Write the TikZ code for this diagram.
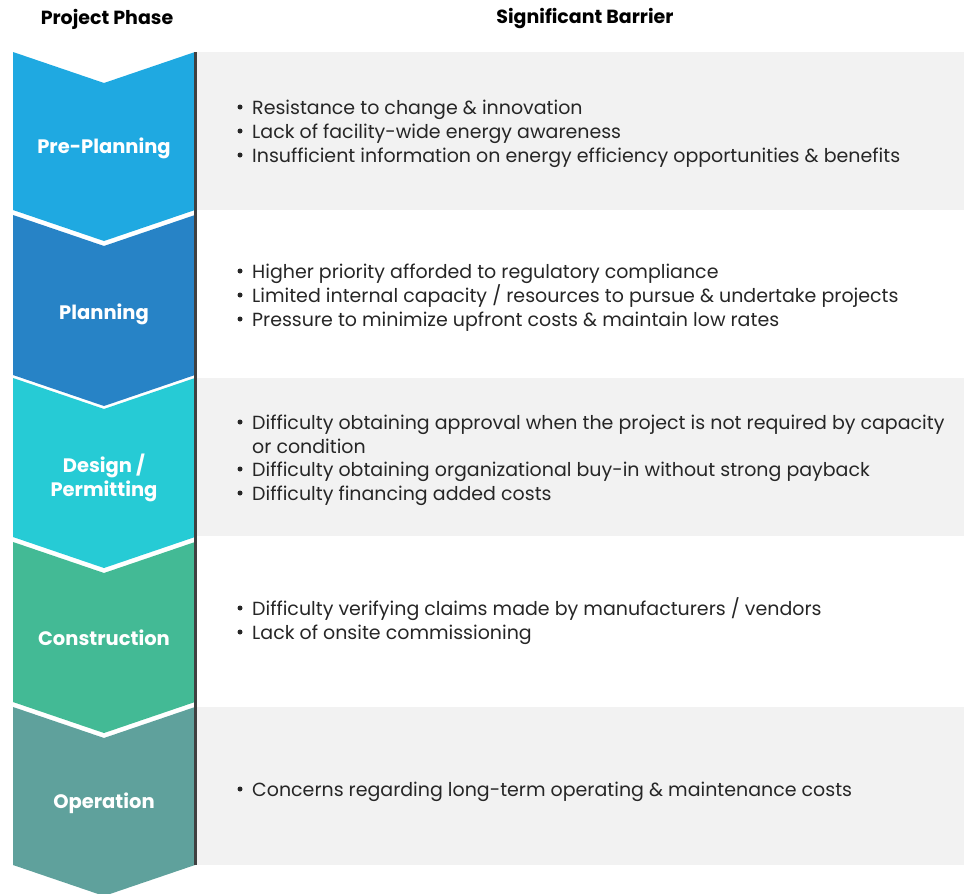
\documentclass[tikz,border=0pt]{standalone}
\usepackage{fontspec}
\setmainfont{Poppins}
\begin{document}
\begin{tikzpicture}[x=1pt,y=-1pt,
  phasetext/.style={text=white,font=\fontsize{19.5}{24.5}\selectfont\bfseries,align=center},
  headtext/.style={text=black,font=\fontsize{19}{23}\selectfont\bfseries},
  bullettext/.style={anchor=base west,inner sep=0pt,text=black!85,font=\fontsize{19}{23}\selectfont},
  dotmark/.style={circle,fill=black!85,inner sep=0pt,minimum size=5pt}]
\definecolor{cPre}{HTML}{1FA9E1}
\definecolor{cPlan}{HTML}{2783C6}
\definecolor{cDes}{HTML}{26CBD5}
\definecolor{cCon}{HTML}{43BA95}
\definecolor{cOpe}{HTML}{5FA19C}
\definecolor{rowgray}{HTML}{F2F2F2}
\useasboundingbox (0,0) rectangle (964,894);
% shaded barrier rows
\fill[rowgray] (197,52) rectangle (964,210);
\fill[rowgray] (197,378) rectangle (964,536);
\fill[rowgray] (197,707) rectangle (964,865);
% chevrons: top y, bottom y (side edges)
\foreach \ya/\yb/\col in {52/210/cPre, 215/375/cPlan, 378/537/cDes, 542/702/cCon, 707/865/cOpe}{
  \fill[\col] (13,\ya) -- (104,\ya+31) -- (195,\ya) -- (195,\yb) -- (104,\yb+31) -- (13,\yb) -- cycle;
}
% divider
\draw[line width=3pt,black!75] (195.5,52) -- (195.5,865);
% headers
\node[headtext] (hphase) at (107,19) {Project Phase};
\node[headtext] (hbarrier) at (585,19) {Significant Barrier};
% phase labels
\node[phasetext] (p1) at (104,148) {Pre-Planning};
\node[phasetext] (p2) at (104,314) {Planning};
\node[phasetext] (p3) at (104,478) {Design /\\Permitting};
\node[phasetext] (p4) at (104,638) {Construction};
\node[phasetext] (p5) at (104,803) {Operation};
% barrier bullets: centre line y / text
\foreach \y/\t [count=\i] in {
  107/{Resistance to change \& innovation},
  131/{Lack of facility-wide energy awareness},
  155/{Insufficient information on energy efficiency opportunities \& benefits},
  271/{Higher priority afforded to regulatory compliance},
  295/{Limited internal capacity / resources to pursue \& undertake projects},
  319/{Pressure to minimize upfront costs \& maintain low rates},
  422/{Difficulty obtaining approval when the project is not required by capacity},
  469/{Difficulty obtaining organizational buy-in without strong payback},
  493/{Difficulty financing added costs},
  608/{Difficulty verifying claims made by manufacturers / vendors},
  632/{Lack of onsite commissioning},
  789/{Concerns regarding long-term operating \& maintenance costs}}{
  \node[dotmark] (d\i) at (240,\y) {};
  \node[bullettext] (b\i) at (252,\y+7) {\t};
}
\node[bullettext] (b7c) at (252,453) {or condition};
\end{tikzpicture}
\end{document}
